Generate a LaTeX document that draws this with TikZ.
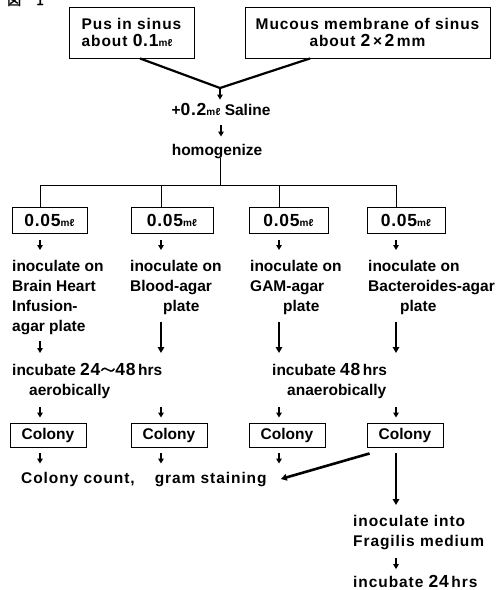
\documentclass[tikz,border=0pt]{standalone}
\usepackage{fontspec}
\setmainfont{Liberation Sans}[UprightFont=* Bold]
\newfontfamily\cjkfont{Noto Sans CJK JP}[FakeBold=1.5]
\newfontfamily\wideletters{Liberation Sans}[UprightFont=* Bold,LetterSpace=6]
\newfontfamily\numfont{Liberation Sans}[UprightFont=* Bold,LetterSpace=4]
\usetikzlibrary{arrows.meta}
\newcommand{\mlunit}{{\fontsize{10}{10}\selectfont m\kern0.3pt ℓ}}
\newcommand{\bignum}[1]{{\numfont\fontsize{17.5}{17.5}\selectfont #1}}
\newcommand{\wave}{{\cjkfont\fontsize{15}{15}\selectfont 〜}}

\begin{document}
\begin{tikzpicture}[x=1pt,y=-1pt,
	every node/.style={font=\fontsize{15.5}{20}\selectfont,inner sep=0pt},
	box/.style={draw,line width=0.9pt,align=center},
	txt/.style={align=left,anchor=north west},
	tree/.style={line width=0.9pt},
	mergeline/.style={line width=2.2pt},
	sarr/.style={line width=1.5pt,-{Triangle[length=5pt,width=5.5pt]},shorten <=6pt,shorten >=8pt},
	larr/.style={line width=2.6pt,-{Triangle[length=6pt,width=6.5pt]}}]
\useasboundingbox (0,0) rectangle (501,590);
% title, cut at the top edge
\node[anchor=base west,font=\cjkfont\fontsize{14}{14}\selectfont] (fig) at (7,5) {図\hspace{15pt}1};
% samples
\node[box,minimum width=125pt,minimum height=51pt,align=left,font=\wideletters\fontsize{15.5}{16.5}\selectfont] (pus) at (131.5,32.5) {Pus in sinus\\about \bignum{0.1}\mlunit};
\node[box,minimum width=245pt,minimum height=51pt,font=\wideletters\fontsize{15.5}{16.5}\selectfont] (muc) at (367.5,32.5) {Mucous membrane of sinus\\about \bignum{2}\,×\,\bignum{2}\,mm};
\coordinate (merge) at (220,88);
\draw[mergeline] ([xshift=8.5pt]pus.south) -- (merge) -- ([xshift=-57.5pt]muc.south);
\node[anchor=base] (saline) at (221,115) {+\bignum{0.2}\mlunit\ Saline};
\draw[sarr,shorten <=0pt,shorten >=3pt] (merge) -- (merge |- saline.north);
\node[anchor=base] (homog) at (217,155) {homogenize};
\draw[sarr,shorten <=10pt,shorten >=7pt] (saline.south) -- (saline.south |- homog.north);
% split into four plates
\coordinate (split) at (220,185);
\coordinate (h1) at (40,185);
\coordinate (h2) at (161,185);
\coordinate (h3) at (279,185);
\coordinate (h4) at (396,185);
\draw[tree] (homog.south -| split) -- (split);
\draw[tree] (h1) -- (h4);
\node[box,minimum width=75pt,minimum height=26pt] (q1) at (49.5,220) {\bignum{0.05}\mlunit};
\node[box,minimum width=82pt,minimum height=26pt] (q2) at (172,220) {\bignum{0.05}\mlunit};
\node[box,minimum width=79pt,minimum height=26pt] (q3) at (288.5,220) {\bignum{0.05}\mlunit};
\node[box,minimum width=78pt,minimum height=26pt] (q4) at (406,220) {\bignum{0.05}\mlunit};
\node[txt] (ino1) at (12,260) {inoculate on\\Brain Heart\\Infusion-\\agar plate};
\node[txt] (ino2) at (130,260) {inoculate on\\Blood-agar\\\hspace*{33pt}plate};
\node[txt] (ino3) at (250,260) {inoculate on\\GAM-agar\\\hspace*{33pt}plate};
\node[txt] (ino4) at (368,260) {inoculate on\\Bacteroides-agar\\\hspace*{32pt}plate};
\foreach \i in {1,...,4}{
	\draw[tree] (h\i) -- (h\i |- q\i.north);
	\draw[sarr,shorten <=7pt,shorten >=10pt] (q\i.south -| h\i) -- (ino\i.north -| h\i);
}
% incubation
\node[txt] (inc1) at (12,363) {incubate \bignum{24}\wave\bignum{48}\,hrs\\\hspace*{17pt}aerobically};
\node[txt] (inc2) at (272,363) {incubate \bignum{48}\,hrs\\\hspace*{15pt}anaerobically};
\draw[sarr,shorten <=6pt,shorten >=10pt] (ino1.south -| h1) -- (inc1.north -| h1);
\draw[larr,shorten <=7pt,shorten >=10pt] (ino2.south -| h2) -- (inc1.north -| h2);
\draw[larr,shorten <=7pt,shorten >=10pt] (ino3.south -| h3) -- (inc2.north -| h3);
\draw[larr,shorten <=7pt,shorten >=10pt] (ino4.south -| h4) -- (inc2.north -| h4);
% colonies
\node[box,minimum width=76pt,minimum height=24pt] (c1) at (48,435) {Colony};
\node[box,minimum width=76pt,minimum height=24pt] (c2) at (169,435) {Colony};
\node[box,minimum width=76pt,minimum height=24pt] (c3) at (287,435) {Colony};
\node[box,minimum width=76pt,minimum height=24pt] (c4) at (405,435) {Colony};
\draw[sarr,shorten <=8pt,shorten >=5pt] (inc1.south -| h1) -- (c1.north -| h1);
\draw[sarr,shorten <=8pt,shorten >=5pt] (inc1.south -| h2) -- (c2.north -| h2);
\draw[sarr,shorten <=8pt,shorten >=5pt] (inc2.south -| h3) -- (c3.north -| h3);
\draw[sarr,shorten <=8pt,shorten >=5pt] (inc2.south -| h4) -- (c4.north -| h4);
\node[anchor=base west,font=\wideletters\fontsize{15.5}{20}\selectfont] (res) at (21,483) {Colony count,\hspace{20pt}gram staining};
\foreach \i in {1,2,3}
	\draw[sarr,shorten <=6pt,shorten >=8pt] (c\i.south -| h\i) -- (res.north -| h\i);
\draw[larr] ([shift={(3,6)}]c4.south west) -- ([xshift=14pt]res.east);
% fragilis branch
\node[txt,font=\wideletters\fontsize{15.5}{20}\selectfont] (frag) at (353,515.5) {inoculate into\\Fragilis medium};
\node[anchor=base west,font=\wideletters\fontsize{15.5}{20}\selectfont] (inc3) at (353,587) {incubate \bignum{24}\,hrs};
\draw[larr,shorten <=6pt,shorten >=10.5pt] (c4.south -| h4) -- (frag.north -| h4);
\draw[sarr,shorten <=7.5pt,shorten >=5.5pt] (frag.south -| h4) -- (inc3.north -| h4);
\end{tikzpicture}
\end{document}
